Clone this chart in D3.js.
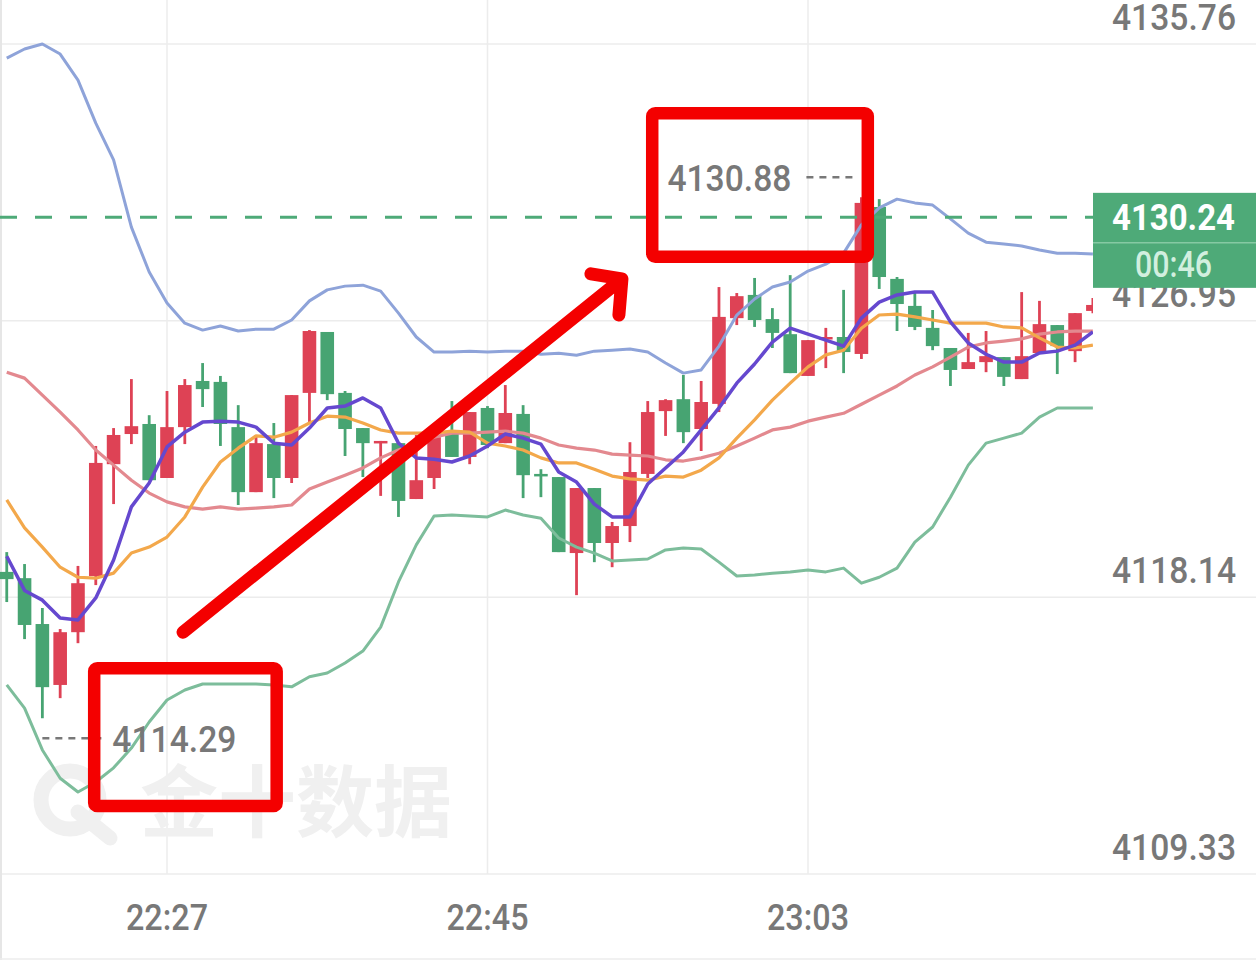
<!DOCTYPE html>
<html>
<head>
<meta charset="utf-8">
<script src="https://cdn.jsdelivr.net/npm/d3@7"></script>
<style>
    body { margin: 0; background: #ffffff; }
    svg { display: block; }
    .axisText { font-family: Roboto, 'DejaVu Sans', sans-serif; font-size: 37px; font-weight: 500; fill: #787878; }
</style>
</head>
<body>
<svg id="kline"></svg>
<script>
// 1-minute candles, 22:18 .. 23:19
const opens = [4118.95, 4118.75, 4117.29, 4115.35, 4117.03, 4118.82, 4122.38, 4123.34, 4123.66, 4121.94,
    4123.56, 4125.03, 4125.00, 4123.56, 4121.49, 4123.02, 4121.94, 4124.65, 4126.59, 4124.65,
    4123.53, 4123.05, 4123.05, 4121.27, 4121.94, 4123.40, 4122.61, 4124.17, 4123.05, 4123.98,
    4122.07, 4121.97, 4119.55, 4121.62, 4119.87, 4120.41, 4122.07, 4124.07, 4124.45, 4123.50,
    4124.30, 4127.03, 4127.77, 4127.00, 4126.52, 4125.19, 4126.37, 4126.43, 4125.89, 4130.57,
    4128.28, 4127.42, 4126.72, 4126.08, 4125.41, 4125.63, 4125.79, 4125.09, 4125.92, 4126.81,
    4125.98, 4127.26];
const highs = [4119.58, 4119.20, 4117.80, 4117.13, 4119.14, 4122.96, 4123.53, 4125.09, 4123.94, 4124.71,
    4125.09, 4125.60, 4125.19, 4124.26, 4123.31, 4123.69, 4124.58, 4126.65, 4126.59, 4124.71,
    4123.53, 4123.12, 4123.05, 4123.31, 4123.24, 4124.39, 4124.04, 4124.23, 4124.90, 4124.26,
    4122.22, 4121.97, 4121.62, 4121.62, 4120.54, 4123.08, 4124.39, 4124.45, 4125.22, 4125.03,
    4128.02, 4127.83, 4128.31, 4127.35, 4128.40, 4126.33, 4126.72, 4127.93, 4130.88, 4130.82,
    4128.34, 4127.86, 4127.29, 4126.08, 4126.56, 4126.62, 4125.79, 4127.86, 4127.58, 4126.81,
    4127.19, 4127.67];
const lows = [4117.99, 4116.81, 4114.29, 4114.93, 4116.68, 4118.53, 4121.11, 4123.02, 4121.87, 4121.94,
    4123.02, 4124.20, 4122.96, 4121.08, 4121.49, 4121.30, 4121.78, 4123.69, 4124.42, 4122.64,
    4121.97, 4121.37, 4120.70, 4121.27, 4121.59, 4122.61, 4122.38, 4122.89, 4123.05, 4121.30,
    4121.33, 4119.58, 4118.21, 4119.26, 4119.10, 4119.90, 4121.94, 4123.28, 4123.05, 4122.80,
    4124.04, 4126.81, 4126.75, 4126.08, 4125.28, 4125.19, 4125.44, 4125.28, 4125.73, 4127.96,
    4126.62, 4126.65, 4126.01, 4124.87, 4125.41, 4125.31, 4124.87, 4125.09, 4125.92, 4125.25,
    4125.63, 4127.19];
const closes = [4118.72, 4117.26, 4115.28, 4117.03, 4118.59, 4122.42, 4123.31, 4123.59, 4121.87, 4123.56,
    4124.90, 4124.77, 4123.66, 4121.49, 4123.05, 4121.94, 4124.58, 4126.62, 4124.61, 4123.50,
    4123.05, 4123.12, 4121.21, 4121.87, 4123.24, 4122.61, 4124.04, 4122.99, 4124.01, 4122.03,
    4122.00, 4119.58, 4121.62, 4119.87, 4120.41, 4122.13, 4124.04, 4124.42, 4123.40, 4124.36,
    4127.07, 4127.73, 4126.97, 4126.56, 4125.28, 4126.33, 4126.43, 4125.95, 4130.70, 4128.34,
    4127.48, 4126.75, 4126.14, 4125.38, 4125.63, 4125.82, 4125.16, 4125.82, 4126.84, 4126.14,
    4127.19, 4127.45];

const ma5 = [4119.45, 4118.36, 4118.05, 4117.48, 4117.42, 4118.12, 4119.33, 4121.02, 4121.78, 4122.93,
    4123.40, 4123.72, 4123.75, 4123.72, 4123.56, 4123.05, 4122.99, 4123.53, 4124.17, 4124.23,
    4124.49, 4124.17, 4123.05, 4122.58, 4122.54, 4122.45, 4122.64, 4122.96, 4123.34, 4123.21,
    4123.02, 4122.13, 4121.81, 4121.11, 4120.70, 4120.70, 4121.75, 4122.26, 4122.77, 4123.47,
    4124.17, 4124.96, 4125.57, 4126.27, 4126.71, 4126.52, 4126.33, 4126.14, 4127.03, 4127.54,
    4127.77, 4127.86, 4127.86, 4126.91, 4126.24, 4125.88, 4125.63, 4125.63, 4125.92, 4125.98,
    4126.17, 4126.59];
const ma10 = [4121.24, 4120.35, 4119.74, 4119.10, 4118.78, 4118.75, 4118.91, 4119.55, 4119.74, 4120.06,
    4120.70, 4121.65, 4122.45, 4122.89, 4123.28, 4123.24, 4123.40, 4123.69, 4123.91, 4123.88,
    4123.69, 4123.47, 4123.37, 4123.37, 4123.37, 4123.43, 4123.40, 4123.05, 4122.96, 4122.83,
    4122.58, 4122.42, 4122.42, 4122.22, 4122.00, 4121.91, 4121.87, 4122.00, 4121.97, 4122.19,
    4122.58, 4123.21, 4123.79, 4124.42, 4124.96, 4125.48, 4125.86, 4126.01, 4126.71, 4127.13,
    4127.16, 4127.07, 4126.97, 4126.87, 4126.87, 4126.87, 4126.75, 4126.72, 4126.40, 4126.11,
    4126.08, 4126.17];
const bollUpper = [4135.31, 4135.60, 4135.76, 4135.44, 4134.61, 4133.24, 4132.07, 4129.93, 4128.50, 4127.51,
    4126.87, 4126.65, 4126.78, 4126.62, 4126.68, 4126.68, 4126.97, 4127.58, 4127.93, 4128.05,
    4128.08, 4127.89, 4127.19, 4126.43, 4125.95, 4125.95, 4125.98, 4125.95, 4125.98, 4125.98,
    4125.88, 4125.91, 4125.85, 4125.98, 4126.01, 4126.05, 4125.95, 4125.60, 4125.28, 4125.38,
    4126.14, 4127.13, 4127.64, 4128.02, 4128.18, 4128.53, 4128.75, 4129.10, 4130.00, 4130.54,
    4130.82, 4130.70, 4130.63, 4130.19, 4129.74, 4129.45, 4129.39, 4129.33, 4129.20, 4129.10,
    4129.10, 4129.07];
const bollMid = [4125.31, 4125.12, 4124.58, 4124.04, 4123.47, 4122.83, 4122.35, 4121.87, 4121.46, 4121.18,
    4121.02, 4120.95, 4121.02, 4120.95, 4120.98, 4121.02, 4121.08, 4121.59, 4121.81, 4122.03,
    4122.26, 4122.58, 4122.83, 4123.05, 4123.24, 4123.37, 4123.37, 4123.40, 4123.43, 4123.37,
    4123.21, 4122.99, 4122.89, 4122.83, 4122.70, 4122.67, 4122.64, 4122.52, 4122.48, 4122.58,
    4122.73, 4122.96, 4123.21, 4123.47, 4123.56, 4123.75, 4123.88, 4124.00, 4124.29, 4124.58,
    4124.87, 4125.22, 4125.48, 4125.79, 4126.11, 4126.24, 4126.30, 4126.37, 4126.52, 4126.59,
    4126.62, 4126.62];
const bollLower = [4115.35, 4114.61, 4113.28, 4112.38, 4111.94, 4112.26, 4112.71, 4113.34, 4114.17, 4114.87,
    4115.19, 4115.38, 4115.38, 4115.38, 4115.38, 4115.35, 4115.29, 4115.61, 4115.73, 4116.05,
    4116.43, 4117.19, 4118.63, 4119.81, 4120.73, 4120.76, 4120.73, 4120.70, 4120.92, 4120.76,
    4120.66, 4120.03, 4119.74, 4119.55, 4119.30, 4119.33, 4119.36, 4119.65, 4119.71, 4119.68,
    4119.26, 4118.82, 4118.85, 4118.91, 4118.95, 4119.01, 4118.95, 4119.07, 4118.59, 4118.78,
    4119.07, 4119.90, 4120.38, 4121.33, 4122.35, 4123.05, 4123.21, 4123.37, 4123.88, 4124.17,
    4124.17, 4124.17];

const yTicks = [4135.76, 4126.95, 4118.14, 4109.33];
const xTickIndex = [9, 27, 45];
const xTickLabels = ['22:27', '22:45', '23:03'];
const lastPrice = 4130.24;
const countdown = '00:46';

// hand drawn red markup, in (candle index, price)
const markBoxes = [
    { i0: 4.56, i1: 15.51, p0: 4116.08, p1: 4111.30 },
    { i0: 35.90, i1: 48.71, p0: 4133.75, p1: 4128.79 }
];
const markArrow = { from: [9.90, 4117.03], corner: [34.55, 4128.28], arm1: [32.81, 4128.44], arm2: [34.38, 4127.13] };

class KlineChart {
    constructor(svgID) {
        this.width = 1256;
        this.height = 966;
        this.plotRight = 1093;
        this.plotBottom = 874;
        this.svg = d3.select('#' + svgID).attr('width', this.width).attr('height', this.height);
        this.x = d3.scaleLinear().domain([9, 45]).range([167, 808]);
        this.y = d3.scaleLinear().domain([4109.33, 4135.76]).range([874, 44]);
        this.candles = opens.map((o, i) => ({ i: i, o: o, h: highs[i], l: lows[i], c: closes[i] }));

        this.drawGrid();
        this.drawWatermark();
        this.drawCandles();
        this.drawLines();
        this.drawAxes();
        this.drawExtremes();
        this.drawLastPrice();
        this.drawMarkup();
    }

    drawGrid() {
        let g = this.svg.append('g').attr('class', 'grid');
        g.selectAll('line.h')
            .data(yTicks)
            .join('line')
            .attr('class', 'h')
            .attr('x1', 0)
            .attr('x2', this.width)
            .attr('y1', d => this.y(d))
            .attr('y2', d => this.y(d))
            .attr('stroke', '#ececec')
            .attr('stroke-width', 1.5);
        g.selectAll('line.v')
            .data(xTickIndex)
            .join('line')
            .attr('class', 'v')
            .attr('x1', d => this.x(d))
            .attr('x2', d => this.x(d))
            .attr('y1', 0)
            .attr('y2', this.plotBottom)
            .attr('stroke', '#ececec')
            .attr('stroke-width', 1.5);
        g.append('line')
            .attr('x1', 1).attr('x2', 1)
            .attr('y1', 0).attr('y2', 960)
            .attr('stroke', '#e6e6e6')
            .attr('stroke-width', 2);
        g.append('line')
            .attr('x1', 0).attr('x2', this.width)
            .attr('y1', 959).attr('y2', 959)
            .attr('stroke', '#ececec')
            .attr('stroke-width', 1.5);
    }

    drawWatermark() {
        let g = this.svg.append('g').attr('class', 'watermark');
        g.append('circle')
            .attr('cx', 70).attr('cy', 800).attr('r', 29)
            .attr('fill', 'none')
            .attr('stroke', '#f0f0f0')
            .attr('stroke-width', 15);
        g.append('path')
            .attr('d', 'M78,812 L110,838')
            .attr('stroke', '#f0f0f0')
            .attr('stroke-width', 15)
            .attr('stroke-linecap', 'round');
        g.append('text')
            .attr('x', 140)
            .attr('y', 831)
            .attr('font-family', "'Noto Sans CJK SC', sans-serif")
            .attr('font-weight', 700)
            .attr('font-size', 78)
            .attr('fill', '#f0f0f0')
            .text('金十数据');
    }

    drawCandles() {
        this.svg.append('clipPath')
            .attr('id', 'plotClip')
            .append('rect')
            .attr('x', 0).attr('y', 0)
            .attr('width', this.plotRight).attr('height', this.plotBottom);
        let g = this.svg.append('g')
            .attr('class', 'candles')
            .attr('clip-path', 'url(#plotClip)');
        let colour = d => d.c >= d.o ? '#de4255' : '#47a472';
        let k = g.selectAll('g')
            .data(this.candles)
            .join('g');
        k.append('line')
            .attr('x1', d => this.x(d.i))
            .attr('x2', d => this.x(d.i))
            .attr('y1', d => this.y(d.h))
            .attr('y2', d => this.y(d.l))
            .attr('stroke', colour)
            .attr('stroke-width', 2.8);
        k.append('rect')
            .attr('x', d => this.x(d.i) - 6.8)
            .attr('width', 13.6)
            .attr('y', d => this.y(Math.max(d.o, d.c)))
            .attr('height', d => Math.max(2.5, Math.abs(this.y(d.o) - this.y(d.c))))
            .attr('fill', colour);
    }

    drawLines() {
        let g = this.svg.append('g')
            .attr('class', 'indicators')
            .attr('clip-path', 'url(#plotClip)');
        let series = [
            { name: 'bollUpper', values: bollUpper, colour: '#8ea3d9', w: 3 },
            { name: 'bollLower', values: bollLower, colour: '#7dbd9b', w: 3 },
            { name: 'bollMid', values: bollMid, colour: '#e3898f', w: 3.2 },
            { name: 'ma10', values: ma10, colour: '#f3a84b', w: 3.2 },
            { name: 'ma5', values: ma5, colour: '#6548cf', w: 3.5 }
        ];
        let line = d3.line()
            .x((d, i) => this.x(i))
            .y(d => this.y(d));
        g.selectAll('path')
            .data(series)
            .join('path')
            .attr('class', d => 'ind ' + d.name)
            .attr('d', d => line(d.values))
            .attr('fill', 'none')
            .attr('stroke', d => d.colour)
            .attr('stroke-width', d => d.w)
            .attr('stroke-linejoin', 'round');
    }

    drawAxes() {
        this.svg.append('g')
            .attr('class', 'yLabels')
            .selectAll('text')
            .data(yTicks)
            .join('text')
            .attr('class', 'axisText')
            .attr('x', 1236)
            .attr('y', d => this.y(d) - 14)
            .attr('text-anchor', 'end')
            .attr('textLength', 124)
            .attr('lengthAdjust', 'spacingAndGlyphs')
            .text(d => d.toFixed(2));
        this.svg.append('g')
            .attr('class', 'xLabels')
            .selectAll('text')
            .data(xTickIndex)
            .join('text')
            .attr('class', 'axisText')
            .attr('x', (d, i) => this.x(d) - 41)
            .attr('y', 930)
            .attr('textLength', 82)
            .attr('lengthAdjust', 'spacingAndGlyphs')
            .text((d, i) => xTickLabels[i]);
    }

    drawExtremes() {
        let hi = d3.maxIndex(highs);
        let lo = d3.minIndex(lows);
        let g = this.svg.append('g').attr('class', 'extremes');
        // high: leader to the left of the candle, label above
        let hx = this.x(hi);
        let hy = this.y(highs[hi]) - 20;
        g.append('line')
            .attr('x1', hx - 55).attr('x2', hx - 7)
            .attr('y1', hy).attr('y2', hy)
            .attr('stroke', '#787878')
            .attr('stroke-width', 2.5)
            .attr('stroke-dasharray', '7,6');
        g.append('text')
            .attr('class', 'axisText')
            .attr('x', hx - 194)
            .attr('y', hy + 14)
            .attr('textLength', 124)
            .attr('lengthAdjust', 'spacingAndGlyphs')
            .text(highs[hi].toFixed(2));
        // low: leader to the right, label below
        let lx = this.x(lo);
        let ly = this.y(lows[lo]) + 20;
        g.append('line')
            .attr('x1', lx).attr('x2', lx + 63)
            .attr('y1', ly).attr('y2', ly)
            .attr('stroke', '#787878')
            .attr('stroke-width', 2.5)
            .attr('stroke-dasharray', '7,6');
        g.append('text')
            .attr('class', 'axisText')
            .attr('x', lx + 70)
            .attr('y', ly + 14)
            .attr('textLength', 124)
            .attr('lengthAdjust', 'spacingAndGlyphs')
            .text(lows[lo].toFixed(2));
    }

    drawLastPrice() {
        let py = this.y(lastPrice);
        let g = this.svg.append('g').attr('class', 'lastPrice');
        g.append('line')
            .attr('x1', 0).attr('x2', this.plotRight)
            .attr('y1', py).attr('y2', py)
            .attr('stroke', '#4eaa78')
            .attr('stroke-width', 3)
            .attr('stroke-dasharray', '17,18');
        g.append('rect')
            .attr('x', this.plotRight)
            .attr('y', py - 24.5)
            .attr('width', this.width - this.plotRight)
            .attr('height', 95)
            .attr('fill', '#4eaa78');
        g.append('line')
            .attr('x1', this.plotRight).attr('x2', this.width)
            .attr('y1', py + 25.5).attr('y2', py + 25.5)
            .attr('stroke', '#86c9a3')
            .attr('stroke-width', 1.5);
        g.append('text')
            .attr('class', 'axisText')
            .attr('x', 1112)
            .attr('y', py + 13)
            .attr('textLength', 123)
            .attr('lengthAdjust', 'spacingAndGlyphs')
            .style('font-weight', 700)
            .style('fill', '#ffffff')
            .text(lastPrice.toFixed(2));
        g.append('text')
            .attr('class', 'axisText')
            .attr('x', 1135)
            .attr('y', py + 60)
            .attr('textLength', 77)
            .attr('lengthAdjust', 'spacingAndGlyphs')
            .style('fill', '#d2efdf')
            .text(countdown);
    }

    drawMarkup() {
        let g = this.svg.append('g').attr('class', 'markup');
        let sw = 12.5;
        g.selectAll('rect')
            .data(markBoxes)
            .join('rect')
            .attr('x', d => this.x(d.i0) + sw / 2)
            .attr('y', d => this.y(d.p0) + sw / 2)
            .attr('width', d => this.x(d.i1) - this.x(d.i0) - sw)
            .attr('height', d => this.y(d.p1) - this.y(d.p0) - sw)
            .attr('rx', 3)
            .attr('fill', 'none')
            .attr('stroke', '#f40000')
            .attr('stroke-width', sw)
            .attr('stroke-linejoin', 'round');
        let pt = p => this.x(p[0]) + ',' + this.y(p[1]);
        g.append('path')
            .attr('d', 'M' + pt(markArrow.from) + 'L' + pt(markArrow.corner) +
                'M' + pt(markArrow.arm1) + 'L' + pt(markArrow.corner) + 'L' + pt(markArrow.arm2))
            .attr('fill', 'none')
            .attr('stroke', '#f40000')
            .attr('stroke-width', 13)
            .attr('stroke-linecap', 'round')
            .attr('stroke-linejoin', 'round');
    }
}

new KlineChart('kline');
</script>
</body>
</html>
